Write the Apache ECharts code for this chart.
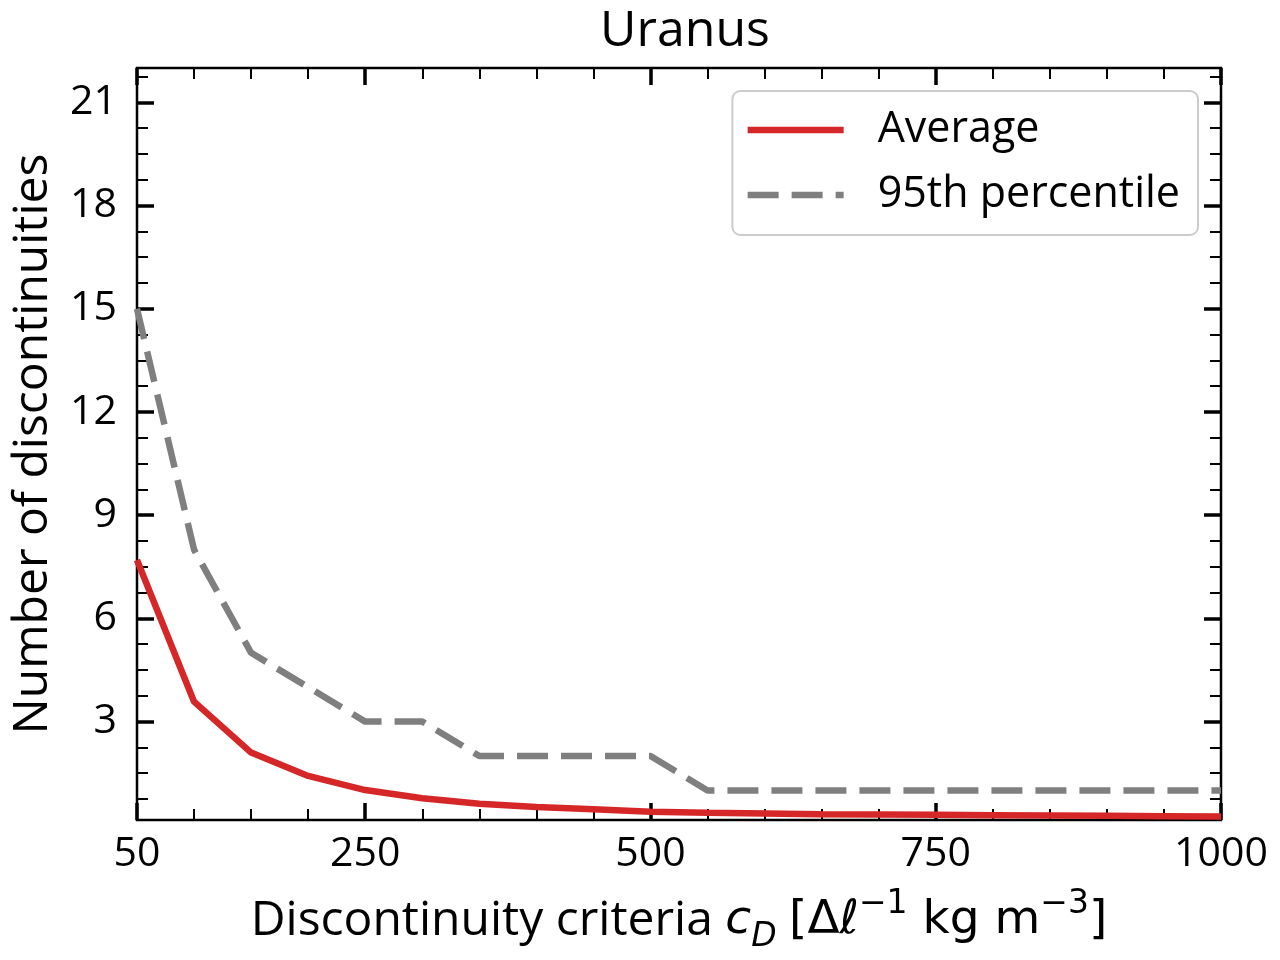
<!DOCTYPE html>
<html>
<head>
<meta charset="utf-8">
<title>Uranus</title>
<script src="https://cdn.jsdelivr.net/npm/echarts@6/dist/echarts.min.js"></script>
<style>
html, body { margin: 0; padding: 0; background: #fff; }
#chart { width: 1280px; height: 960px; }
</style>
</head>
<body>
<div id="chart"></div>
<script>
// discontinuity criteria c_D
const criteria = [50, 100, 150, 200, 250, 300, 350, 400, 450, 500,
                  550, 600, 650, 700, 750, 800, 850, 900, 950, 1000];
// number of discontinuities
const average = [7.7, 3.58, 2.1, 1.42, 1.01, 0.77, 0.61, 0.52, 0.45, 0.38,
                 0.35, 0.33, 0.31, 0.3, 0.29, 0.28, 0.27, 0.26, 0.25, 0.24];
const percentile95 = [15, 8, 5, 4, 3, 3, 2, 2, 2, 2,
                      1, 1, 1, 1, 1, 1, 1, 1, 1, 1];

// ticks
const xMajorTicks = [50, 250, 500, 750, 1000];
const xMinorTicks = [100, 150, 200, 300, 350, 400, 450, 550, 600, 650, 700, 800, 850, 900, 950];
const yMajorTicks = [3, 6, 9, 12, 15, 18, 21];
const yMinorTicks = [0.75, 1.5, 2.25, 3.75, 4.5, 5.25, 6.75, 7.5, 8.25, 9.75, 10.5, 11.25,
                     12.75, 13.5, 14.25, 15.75, 16.5, 17.25, 18.75, 19.5, 20.25, 21.75];

const X_MIN = 50, X_MAX = 1000;
const Y_MIN = 0.14, Y_MAX = 22;

const FONT = "'Open Sans', 'Noto Sans', sans-serif";
const MATH = "'DejaVu Sans', sans-serif";

const chart = echarts.init(document.getElementById('chart'));

const gridBox = { left: 137, right: 59, top: 68, bottom: 140 };

function xAxisOf(gridIndex, position, ticks, len, width, withLabels) {
    return {
        type: 'value', gridIndex: gridIndex, position: position,
        min: X_MIN, max: X_MAX,
        axisLine: { show: false },
        splitLine: { show: false },
        axisTick: { show: true, inside: true, length: len, customValues: ticks,
                    lineStyle: { color: '#000', width: width } },
        axisLabel: withLabels ? {
            show: true, customValues: ticks, margin: 14,
            formatter: v => String(v),
            color: '#000', fontSize: 41, fontFamily: FONT
        } : { show: false }
    };
}

function yAxisOf(gridIndex, position, ticks, len, width, withLabels) {
    return {
        type: 'value', gridIndex: gridIndex, position: position,
        min: Y_MIN, max: Y_MAX,
        axisLine: { show: false },
        splitLine: { show: false },
        axisTick: { show: true, inside: true, length: len, customValues: ticks,
                    lineStyle: { color: '#000', width: width } },
        axisLabel: withLabels ? {
            show: true, customValues: ticks, margin: 20,
            formatter: v => String(v),
            color: '#000', fontSize: 41, fontFamily: FONT
        } : { show: false }
    };
}

const xBottom = xAxisOf(0, 'bottom', xMajorTicks, 17, 3.5, true);
xBottom.name = 'Discontinuity criteria {i|c}{sub|D} {m|[Δℓ}{sup|−1}{m| kg m}{sup|−3}{m|]}';
xBottom.nameLocation = 'middle';
xBottom.nameGap = 68;
xBottom.nameTextStyle = {
    color: '#000', fontSize: 48, fontFamily: FONT, lineHeight: 66,
    rich: {
        i: { fontFamily: MATH, fontStyle: 'italic', fontSize: 47, lineHeight: 66, color: '#000' },
        sub: { fontFamily: MATH, fontStyle: 'italic', fontSize: 33, lineHeight: 30, verticalAlign: 'bottom', color: '#000' },
        m: { fontFamily: MATH, fontSize: 47, lineHeight: 66, color: '#000' },
        sup: { fontFamily: MATH, fontSize: 33, lineHeight: 46, verticalAlign: 'top', color: '#000' }
    }
};

const yLeft = yAxisOf(0, 'left', yMajorTicks, 17, 3.5, true);
yLeft.name = 'Number of discontinuities';
yLeft.nameLocation = 'middle';
yLeft.nameGap = 80;
yLeft.nameTextStyle = { color: '#000', fontSize: 48, fontFamily: FONT };

chart.setOption({
    backgroundColor: '#fff',
    animation: false,
    title: {
        text: 'Uranus', left: 680, top: 2, textAlign: 'center',
        textStyle: { color: '#000', fontSize: 50, fontWeight: 'normal', fontFamily: FONT }
    },
    grid: [
        Object.assign({ show: true, borderColor: '#000', borderWidth: 2.5, backgroundColor: 'transparent' }, gridBox),
        Object.assign({ show: false }, gridBox)
    ],
    xAxis: [
        xBottom,
        xAxisOf(0, 'top', xMajorTicks, 17, 3.5, false),
        xAxisOf(1, 'bottom', xMinorTicks, 11, 2, false),
        xAxisOf(1, 'top', xMinorTicks, 11, 2, false)
    ],
    yAxis: [
        yLeft,
        yAxisOf(0, 'right', yMajorTicks, 17, 3.5, false),
        yAxisOf(1, 'left', yMinorTicks, 11, 2, false),
        yAxisOf(1, 'right', yMinorTicks, 11, 2, false)
    ],
    legend: {
        orient: 'vertical', right: 82, top: 91,
        backgroundColor: '#fff', borderColor: '#cccccc', borderWidth: 2, borderRadius: 8,
        padding: [14, 18, 15, 12],
        itemWidth: 96, itemHeight: 50, itemGap: 15,
        itemStyle: { color: 'transparent', borderWidth: 0, opacity: 0 },
        lineStyle: { width: 6.5 },
        textStyle: { color: '#000', fontSize: 43, fontFamily: FONT, lineHeight: 50, padding: [0, 0, 0, 29] },
        data: ['Average', '95th percentile']
    },
    series: [
        {
            name: 'Average', type: 'line', xAxisIndex: 0, yAxisIndex: 0,
            data: criteria.map((c, i) => [c, average[i]]),
            showSymbol: false, symbol: 'none',
            lineStyle: { color: '#d62728', width: 6.5 },
            itemStyle: { color: '#d62728' },
            z: 3
        },
        {
            name: '95th percentile', type: 'line', xAxisIndex: 0, yAxisIndex: 0,
            data: criteria.map((c, i) => [c, percentile95[i]]),
            showSymbol: false, symbol: 'none',
            lineStyle: { color: '#7f7f7f', width: 6.5, type: [31, 13] },
            itemStyle: { color: '#7f7f7f' },
            z: 2
        }
    ]
});
</script>
</body>
</html>
